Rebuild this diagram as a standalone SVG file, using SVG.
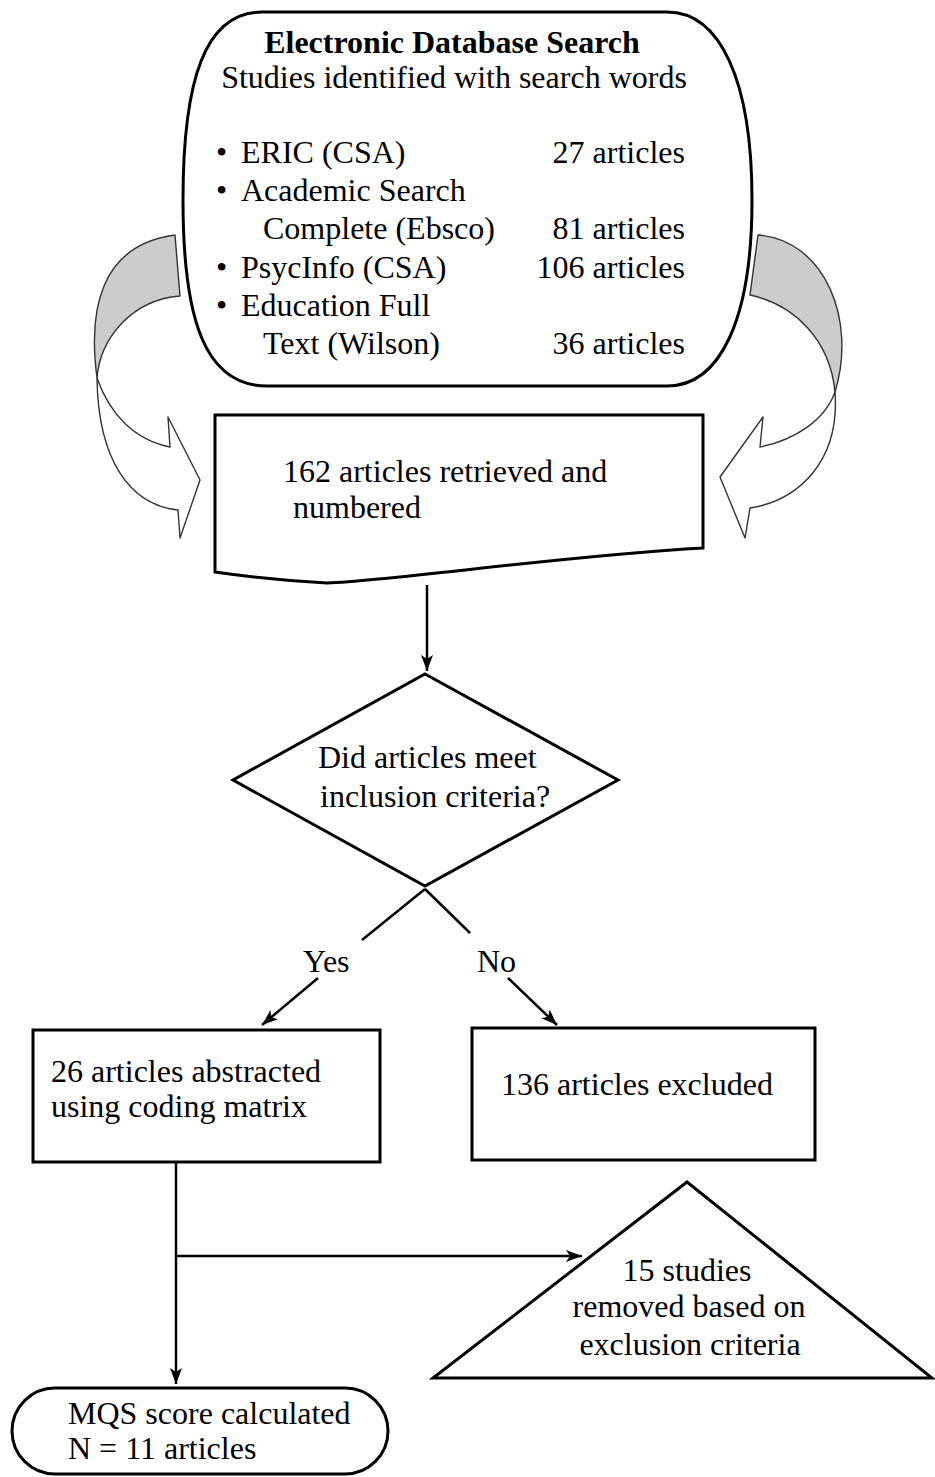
<svg xmlns="http://www.w3.org/2000/svg" width="935" height="1477" viewBox="0 0 935 1477">
  <style>
    text { font-family: "Liberation Serif", "DejaVu Serif", serif; font-size: 32px; fill: #000; }
    .title { font-weight: bold; }
    .mid { text-anchor: middle; }
    .end { text-anchor: end; }
    .node { fill: #fff; stroke: #000; stroke-width: 3; }
    .edge { fill: none; stroke: #000; stroke-width: 2.5; }
    .ribbon-back { fill: #cccccc; stroke: #333; stroke-width: 1.4; stroke-linejoin: round; }
    .ribbon-front { fill: #fff; stroke: #333; stroke-width: 1.4; stroke-linejoin: round; }
  </style>
  <defs>
    <marker id="arrow" markerUnits="userSpaceOnUse" markerWidth="18" markerHeight="14" viewBox="0 0 18 14" refX="16" refY="7" orient="auto">
      <path d="M0,1 L16,7 L0,13 L4,7 Z" fill="#000"/>
    </marker>
  </defs>
  <rect width="935" height="1477" fill="#fff"/>

  <!-- curved block arrows feeding the retrieval step -->
  <g id="curved-arrow-left">
    <path class="ribbon-back" d="M175,235 C100,245 88,310 97,378 C100,340 130,300 180,296 Z"/>
    <path class="ribbon-front" d="M97,378 C110,415 135,440 170,447 L168,417 L200,480 L180,538 L178,510 C130,505 98,460 97,378 Z"/>
  </g>
  <g id="curved-arrow-right">
    <path class="ribbon-back" d="M758,235 C825,240 857,320 835,392 C830,340 795,305 750,295 Z"/>
    <path class="ribbon-front" d="M835,392 C825,420 795,440 760,447 L763,417 L720,477 L745,538 L750,508 C800,500 840,460 835,392 Z"/>
  </g>

  <!-- database search -->
  <g id="database-search" font-family="Liberation Serif, DejaVu Serif, serif">
    <path class="node" d="M262,12 H667 C720,12 752,80 752,200 C752,320 720,386 667,386 H267 C205,386 183,320 183,200 C183,80 205,12 262,12 Z"/>
    <text class="title mid" x="452" y="53">Electronic Database Search</text>
    <text class="mid" x="454" y="88">Studies identified with search words</text>
    <text x="216" y="163">•</text><text x="241" y="163">ERIC (CSA)</text>
    <text class="end" x="685" y="163">27 articles</text>
    <text x="216" y="201">•</text><text x="241" y="201">Academic Search</text>
    <text x="263" y="239">Complete (Ebsco)</text>
    <text class="end" x="685" y="239">81 articles</text>
    <text x="216" y="278">•</text><text x="241" y="278">PsycInfo (CSA)</text>
    <text class="end" x="685" y="278">106 articles</text>
    <text x="216" y="316">•</text><text x="241" y="316">Education Full</text>
    <text x="263" y="354">Text (Wilson)</text>
    <text class="end" x="685" y="354">36 articles</text>
  </g>

  <!-- retrieved document -->
  <g id="retrieved">
    <path class="node" d="M215,415 H703 V548 C560,556 400,580 327,583 Q270,580 215,572 Z"/>
    <text x="283" y="482">162 articles retrieved and</text>
    <text x="293" y="518">numbered</text>
  </g>

  <!-- inclusion decision -->
  <g id="decision">
    <polygon class="node" points="425,674 618,780 425,886 233,780"/>
    <text x="318" y="768">Did articles meet</text>
    <text x="320" y="807">inclusion criteria?</text>
  </g>

  <g id="abstracted">
    <rect class="node" x="33" y="1030" width="347" height="132"/>
    <text x="51" y="1082">26 articles abstracted</text>
    <text x="51" y="1117">using coding matrix</text>
  </g>

  <g id="excluded">
    <rect class="node" x="472" y="1028" width="343" height="132"/>
    <text x="501" y="1095">136 articles excluded</text>
  </g>

  <g id="removed">
    <polygon class="node" points="687,1182 932,1378 433,1378"/>
    <text class="mid" x="687" y="1281">15 studies</text>
    <text class="mid" x="689" y="1317">removed based on</text>
    <text class="mid" x="690" y="1355">exclusion criteria</text>
  </g>

  <g id="mqs-score">
    <rect class="node" x="12" y="1388" width="376" height="86" rx="43" ry="43"/>
    <text x="68" y="1424">MQS score calculated</text>
    <text x="68" y="1459">N = 11 articles</text>
  </g>

  <!-- connectors -->
  <g id="connectors">
    <path class="edge" d="M427,585 V671" marker-end="url(#arrow)"/>
    <path class="edge" d="M425,889 L362,940"/>
    <path class="edge" d="M425,889 L470,933"/>
    <text x="303" y="972">Yes</text>
    <text x="477" y="972">No</text>
    <path class="edge" d="M318,978 L262,1025" marker-end="url(#arrow)"/>
    <path class="edge" d="M508,978 L557,1025" marker-end="url(#arrow)"/>
    <path class="edge" d="M176,1162 V1384" marker-end="url(#arrow)"/>
    <path class="edge" d="M176,1256 H582" marker-end="url(#arrow)"/>
  </g>
</svg>
